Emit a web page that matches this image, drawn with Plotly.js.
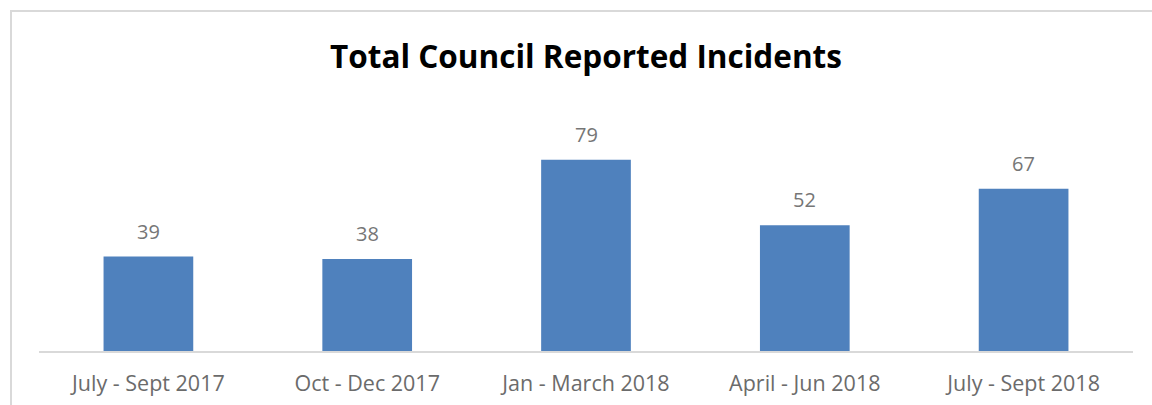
<!DOCTYPE html>
<html>
<head>
<meta charset="utf-8">
<script src="https://cdn.plot.ly/plotly-3.0.1.min.js"></script>
<style>
html,body{margin:0;padding:0;background:#fff;}
#wrap{position:relative;width:1152px;height:405px;overflow:hidden;}
#chart{width:1152px;height:405px;}
#frame{position:absolute;left:10px;top:10px;width:1200px;height:500px;border-left:2px solid #d9d9d9;border-top:2px solid #d9d9d9;pointer-events:none;}
</style>
</head>
<body>
<div id="wrap"><div id="chart"></div><div id="frame"></div></div>
<script>
const categories = ["July - Sept 2017", "Oct - Dec 2017", "Jan - March 2018", "April - Jun 2018", "July - Sept 2018"];
const incidents = [39, 38, 79, 52, 67];
const chartTitle = "Total Council Reported Incidents";

const trace = {
  type: "bar",
  x: categories,
  y: incidents,
  marker: {color: "#4F81BD"},
  hoverinfo: "x+y"
};

const annotations = categories.map((c, i) => ({
  x: c, y: incidents[i], xref: "x", yref: "y",
  text: String(incidents[i]), showarrow: false,
  yanchor: "bottom", yshift: 10,
  font: {family: "'Open Sans', sans-serif", size: 20, color: "#767676"}
}));

const layout = {
  width: 1152, height: 405,
  margin: {l: 39, r: 19, t: 138, b: 54},
  paper_bgcolor: "#fff", plot_bgcolor: "#fff",
  title: {
    text: "<b>" + chartTitle + "</b>",
    x: 586/1152, xanchor: "center", y: 1 - 57/405, yanchor: "middle",
    font: {family: "'Open Sans', sans-serif", size: 31.5, color: "#000"}
  },
  bargap: 0.59,
  showlegend: false,
  xaxis: {
    showline: true, linecolor: "#d9d9d9", linewidth: 1.5,
    ticks: "", ticklabelstandoff: 13,
    tickfont: {family: "'Open Sans', sans-serif", size: 21.5, color: "#6b6b6b"},
    showgrid: false, zeroline: false, fixedrange: true
  },
  yaxis: {
    range: [0, 88], visible: false, showgrid: false, zeroline: false, fixedrange: true
  },
  annotations: annotations
};

Plotly.newPlot("chart", [trace], layout, {displayModeBar: false, staticPlot: true});
</script>
</body>
</html>
